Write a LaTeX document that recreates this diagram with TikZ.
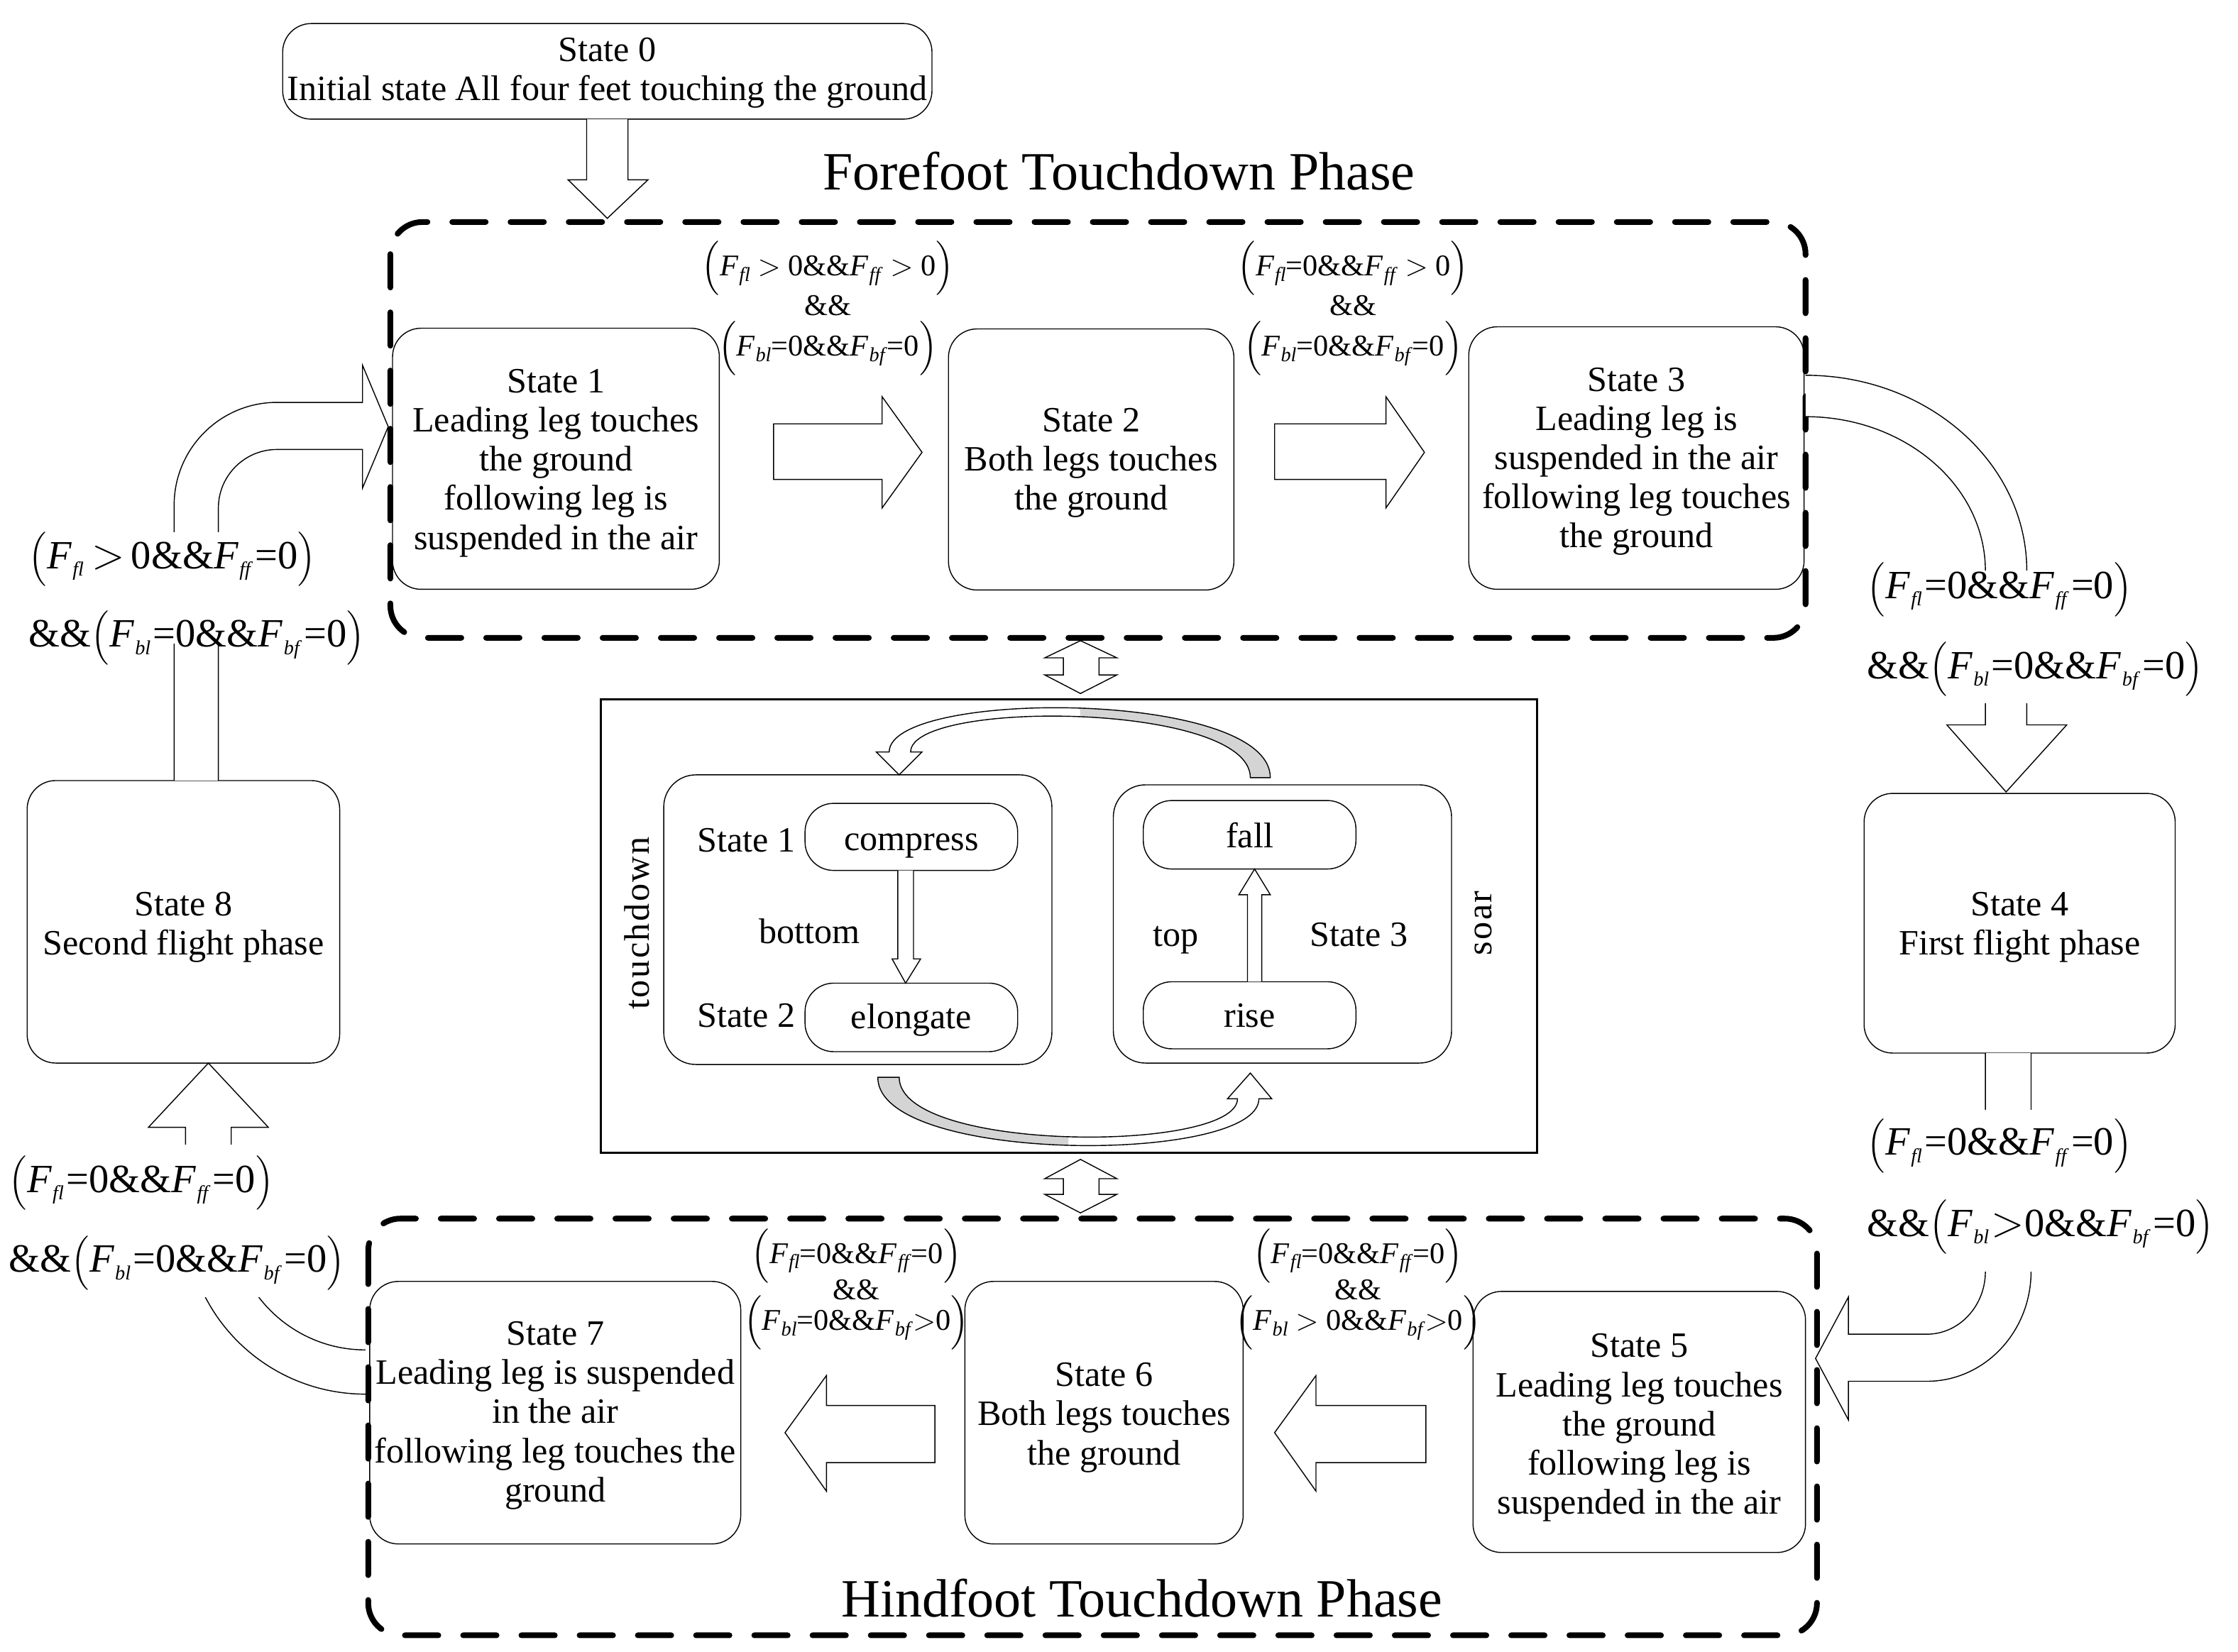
\documentclass[tikz,border=0pt]{standalone}
\usepackage{amsmath}
\usepackage{fontspec}
\setmainfont{Liberation Serif}
\usetikzlibrary{calc}
\newcommand{\txtfont}{\fontsize{14.2}{15.6}\selectfont}
\newcommand{\lblfont}{\fontsize{12}{14}\selectfont}
\newcommand{\sidefont}{\fontsize{16}{16}\selectfont}
\newcommand{\ttlfont}{\fontsize{21.5}{24}\selectfont}
\newcommand{\Fs}[1]{\textit{F}\kern0.02em\raisebox{-0.4ex}{\footnotesize\textit{#1}}}
\newcommand{\Fss}[1]{\textit{F}\kern0.02em\raisebox{-0.4ex}{\footnotesize\textit{#1}}\kern0.06em}
\newcommand{\gtr}{\kern0.15em$>$\kern0.15em}
\newcommand{\lp}{$\Big($}
\newcommand{\rp}{$\Big)$}
\newcommand{\lps}{{\fontsize{12}{14}\selectfont\raisebox{0.06em}{$\Big($}}}
\newcommand{\rps}{{\fontsize{12}{14}\selectfont\raisebox{0.06em}{$\Big)$}}}
\begin{document}
\begin{tikzpicture}[x=0.02cm,y=-0.02cm,
  stbox/.style={draw, line width=0.4pt, rounded corners=0.4cm, inner sep=0pt},
  sttxt/.style={align=center, inner sep=0pt, font=\txtfont},
  pill/.style={draw, line width=0.4pt, rounded corners=0.4cm, inner sep=0pt},
  phase/.style={line width=0.08cm, dash pattern=on 0.468cm off 0.348cm, line cap=round, rounded corners=0.45cm},
  blk/.style={draw, fill=white, line width=0.4pt, line join=miter},
  lbl/.style={inner sep=0pt, font=\lblfont},
  side/.style={inner sep=0pt, anchor=west, font=\sidefont},
  txt/.style={inner sep=0pt, font=\txtfont, text height=0.7em, text depth=0.25em},
  ttl/.style={inner sep=0pt, font=\ttlfont}]
\useasboundingbox[fill=white] (0,0) rectangle (1568,1157.7);

% phase frames
\draw[phase] (273.5,155.6) rectangle (1265,447);
\draw[phase] (258,854) rectangle (1273,1146);
\node[ttl] (fph) at (784,120) {Forefoot Touchdown Phase};
\node[ttl] (hph) at (800,1120) {Hindfoot Touchdown Phase};

% states
\node[stbox, minimum width=9.10cm, minimum height=1.34cm] (s0) at (425.5,50) {};
\node[sttxt] (s0t) at ([yshift=-0.02cm]s0.center) {State 0\\Initial state All four feet touching the ground};
\node[stbox, minimum width=4.58cm, minimum height=3.66cm] (s1) at (389.5,321.5) {};
\node[sttxt] (s1t) at ([yshift=-0.06cm]s1.center) {State 1\\Leading leg touches\\the ground\\following leg is\\suspended in the air};
\node[stbox, minimum width=4.00cm, minimum height=3.66cm] (s2) at (764.5,322) {};
\node[sttxt] (s2t) at ([yshift=-0.05cm]s2.center) {State 2\\Both legs touches\\the ground};
\node[stbox, minimum width=4.70cm, minimum height=3.68cm] (s3) at (1146.5,321) {};
\node[sttxt] (s3t) at ([yshift=-0.05cm]s3.center) {State 3\\Leading leg is\\suspended in the air\\following leg touches\\the ground};
\node[stbox, minimum width=4.36cm, minimum height=3.64cm] (s4) at (1415,647) {};
\node[sttxt] (s4t) at ([yshift=-0.06cm]s4.center) {State 4\\First flight phase};
\node[stbox, minimum width=4.66cm, minimum height=3.66cm] (s5) at (1148.5,996.5) {};
\node[sttxt] (s5t) at ([yshift=-0.08cm]s5.center) {State 5\\Leading leg touches\\the ground\\following leg is\\suspended in the air};
\node[stbox, minimum width=3.90cm, minimum height=3.68cm] (s6) at (773.5,990) {};
\node[sttxt] (s6t) at ([yshift=-0.07cm]s6.center) {State 6\\Both legs touches\\the ground};
\node[stbox, minimum width=5.20cm, minimum height=3.68cm] (s7) at (389,990) {};
\node[sttxt] (s7t) at ([yshift=-0.04cm]s7.center) {State 7\\Leading leg is suspended\\in the air\\following leg touches the\\ground};
\node[stbox, minimum width=4.38cm, minimum height=3.96cm] (s8) at (128.5,646) {};
\node[sttxt] (s8t) at ([yshift=-0.08cm]s8.center) {State 8\\Second flight phase};

% straight block arrows
\filldraw[blk] (411,83.5) -- (411,126) -- (398,126) -- (425.5,153) -- (454,126) -- (440,126) -- (440,83.5);
\draw[blk] (542,297) -- (618,297) -- (618,278) -- (646,317) -- (618,356) -- (618,336) -- (542,336) -- cycle;
\draw[blk] (893,297) -- (971,297) -- (971,278) -- (998,317) -- (971,356) -- (971,336) -- (893,336) -- cycle;
\draw[blk] (999,985) -- (922,985) -- (922,964) -- (893,1004) -- (922,1045) -- (922,1025) -- (999,1025) -- cycle;
\draw[blk] (655,985) -- (579,985) -- (579,964) -- (550,1004) -- (579,1045) -- (579,1025) -- (655,1025) -- cycle;

% curved block arrows
\filldraw[blk] (122,547) -- (122,354) .. controls (122,314.3) and (154.3,282) .. (194,282) -- (254,282) -- (254,256) -- (272,299) -- (254,342) -- (254,315) -- (194,315) .. controls (171.4,315) and (153,333.4) .. (153,356) -- (153,547);
\filldraw[blk] (1265,263) .. controls (1350.6,263) and (1420,324.4) .. (1420,400) -- (1420,508) -- (1448,508) -- (1405.5,555) -- (1364,508) -- (1391,508) -- (1391,400) .. controls (1391,340.4) and (1334.6,292) .. (1265,292);
\filldraw[blk] (1391,738) -- (1391,891) .. controls (1391,915.3) and (1372.6,935) .. (1350,935) -- (1295,935) -- (1295,909) -- (1272,952) -- (1295,995) -- (1295,968) -- (1350,968) .. controls (1390.3,968) and (1423,933.5) .. (1423,891) -- (1423,738);
\filldraw[blk] (256,946) .. controls (204.1,946) and (162,903.9) .. (162,852) -- (162,790) -- (188,790) -- (146,745) -- (104,790) -- (130,790) -- (130,852) .. controls (130,921) and (186.4,977) .. (256,977);

% masks behind side labels
\fill[white] (110,373) rectangle (166,451);
\fill[white] (1385,400) rectangle (1427,493);
\fill[white] (1385,778) rectangle (1430,891);
\fill[white] (100,802) rectangle (215,909);

% condition labels
\node[lbl] (c12a) at (580,188) {\lp\Fs{fl} $>$ 0\&\&\Fs{ff} $>$ 0\rp};
\node[lbl] (c12b) at (580,214) {\&\&};
\node[lbl] (c12c) at (580,244) {\lp\Fs{bl}=0\&\&\Fs{bf}=0\rp};
\node[lbl] (c23a) at (948,188) {\lp\Fs{fl}=0\&\&\Fs{ff} $>$ 0\rp};
\node[lbl] (c23b) at (948,214) {\&\&};
\node[lbl] (c23c) at (948,244) {\lp\Fs{bl}=0\&\&\Fs{bf}=0\rp};
\node[lbl] (c56a) at (951.5,880) {\lp\Fs{fl}=0\&\&\Fs{ff}=0\rp};
\node[lbl] (c56b) at (951.5,904) {\&\&};
\node[lbl] (c56c) at (951.5,927) {\lp\Fs{bl} $>$ 0\&\&\Fs{bf}$>$0\rp};
\node[lbl] (c67a) at (600,880) {\lp\Fs{fl}=0\&\&\Fs{ff}=0\rp};
\node[lbl] (c67b) at (600,904) {\&\&};
\node[lbl] (c67c) at (600,927) {\lp\Fs{bl}=0\&\&\Fs{bf}$>$0\rp};

\node[side] (c81a) at (20,392) {\lps\Fss{fl}\gtr0\&\&\Fss{ff}=0\rps};
\node[side] (c81b) at (20,447) {\&\&\lps\Fss{bl}=0\&\&\Fss{bf}=0\rps};
\node[side] (c34a) at (1308,413) {\lps\Fss{fl}=0\&\&\Fss{ff}=0\rps};
\node[side] (c34b) at (1308,469) {\&\&\lps\Fss{bl}=0\&\&\Fss{bf}=0\rps};
\node[side] (c45a) at (1308,803) {\lps\Fss{fl}=0\&\&\Fss{ff}=0\rps};
\node[side] (c45b) at (1308,860) {\&\&\lps\Fss{bl}$>$0\&\&\Fss{bf}=0\rps};
\node[side] (c78a) at (6,829) {\lps\Fss{fl}=0\&\&\Fss{ff}=0\rps};
\node[side] (c78b) at (6,885) {\&\&\lps\Fss{bl}=0\&\&\Fss{bf}=0\rps};

% double arrows
\draw[blk] (757,449) -- (782.5,461) -- (770,461) -- (770,473) -- (782.5,473) -- (757,486) -- (732,473) -- (745,473) -- (745,461) -- (732,461) -- cycle;
\draw[blk] (757,812.5) -- (782.5,826) -- (770,826) -- (770,837) -- (782.5,837) -- (757,850) -- (732,837) -- (745,837) -- (745,826) -- (732,826) -- cycle;

% central cycle
\node[draw, line width=0.85pt, minimum width=13.12cm, minimum height=6.36cm, inner sep=0pt] (core) at (749,649) {};
\node[draw, line width=0.4pt, rounded corners=0.45cm, minimum width=5.44cm, minimum height=4.06cm, inner sep=0pt] (tdbox) at (601,644.5) {};
\node[draw, line width=0.4pt, rounded corners=0.45cm, minimum width=4.74cm, minimum height=3.90cm, inner sep=0pt] (srbox) at (898.5,647.5) {};
\node[pill, minimum width=2.98cm, minimum height=0.94cm] (cmp) at (638.5,586.5) {};
\node[pill, minimum width=2.98cm, minimum height=0.96cm] (elo) at (638.5,713) {};
\node[pill, minimum width=2.98cm, minimum height=0.96cm] (fal) at (875.5,585) {};
\node[pill, minimum width=2.98cm, minimum height=0.94cm] (ris) at (875.5,711.5) {};
\node[txt] (cmpt) at (638.5,592) {compress};
\node[txt] (elot) at (638.5,717) {elongate};
\node[txt] (falt) at (875.5,590) {fall};
\node[txt] (rist) at (875.5,716) {rise};
\node[txt] (st1) at (523,593) {State 1};
\node[txt] (st2) at (523,716) {State 2};
\node[txt] (bot) at (567,657) {bottom};
\node[txt] (tp) at (824,659) {top};
\node[txt] (st3) at (952,659) {State 3};
\node[txt, rotate=90, font=\txtfont\addfontfeatures{LetterSpace=5}] (tdl) at (451,647) {touchdown};
\node[txt, rotate=90, font=\txtfont\addfontfeatures{LetterSpace=5}] (sol) at (1041,647) {soar};
\filldraw[blk] (629,610) -- (629,672) -- (625,672) -- (634.5,689) -- (645,672) -- (640,672) -- (640,610);
\filldraw[blk] (874,688) -- (874,627) -- (868,627) -- (879,609) -- (890,627) -- (884,627) -- (884,688);
% top curved arrow
\fill[white] (890,545) .. controls (890,483) and (623,483) .. (623,527) -- (614,527) -- (630,543) -- (646,527) -- (638,527) .. controls (638,490) and (876,492) .. (876,545) -- cycle;
\fill[black!17] (890,545) .. controls (890,514) and (823.25,498.5) .. (756.5,496) -- (757,502) .. controls (816.5,504.75) and (876,518.5) .. (876,545) -- cycle;
\draw[line width=0.4pt, line join=miter] (890,545) .. controls (890,483) and (623,483) .. (623,527) -- (614,527) -- (630,543) -- (646,527) -- (638,527) .. controls (638,490) and (876,492) .. (876,545) -- cycle;
% bottom curved arrow
\fill[white] (615,755) .. controls (615,816) and (882,816) .. (882,770) -- (891,770) -- (876,752) -- (860,770) -- (867,770) .. controls (867,808) and (630,808) .. (630,755) -- cycle;
\fill[black!17] (615,755) .. controls (615,785.5) and (681.75,800.75) .. (748.5,802.6) -- (748.5,796.6) .. controls (689.25,794.75) and (630,781.5) .. (630,755) -- cycle;
\draw[line width=0.4pt, line join=miter] (615,755) .. controls (615,816) and (882,816) .. (882,770) -- (891,770) -- (876,752) -- (860,770) -- (867,770) .. controls (867,808) and (630,808) .. (630,755) -- cycle;
\end{tikzpicture}
\end{document}
